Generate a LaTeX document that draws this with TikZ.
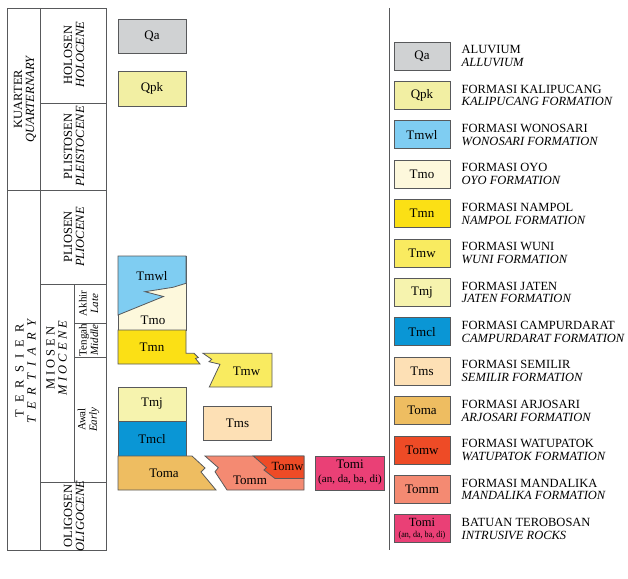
\documentclass[tikz,border=0pt]{standalone}
\usepackage{fontspec}
\setmainfont{Liberation Serif}
\newcommand\fsLeg{\fontsize{12.5}{12.9}\selectfont}
\newcommand\fsBox{\fontsize{13}{13}\selectfont}
\newcommand\fsTl{\fontsize{12.5}{12}\selectfont}
\newcommand\fsSub{\fontsize{11}{11.5}\selectfont}
\newcommand\fsSmall{\fontsize{9}{9}\selectfont}
\newcommand\fsMid{\fontsize{11}{11}\selectfont}
\newcommand\ls{\hspace{7pt}}
\definecolor{linec}{HTML}{58595B}
\definecolor{cQa}{HTML}{D0D2D3}
\definecolor{cQpk}{HTML}{F2EFA3}
\definecolor{cTmwl}{HTML}{7FCDF2}
\definecolor{cTmo}{HTML}{FDF8DC}
\definecolor{cTmn}{HTML}{FBE015}
\definecolor{cTmw}{HTML}{F9EB60}
\definecolor{cTmj}{HTML}{F6F3AE}
\definecolor{cTmcl}{HTML}{0A96D5}
\definecolor{cTms}{HTML}{FDE0B5}
\definecolor{cToma}{HTML}{EEBD61}
\definecolor{cTomw}{HTML}{EE4B26}
\definecolor{cTomm}{HTML}{F48A72}
\definecolor{cTomi}{HTML}{EA4076}
\begin{document}
\begin{tikzpicture}[x=1pt,y=-1pt,
  frm/.style={draw=linec, line width=0.8pt},
  bx/.style={draw=linec, line width=0.8pt},
  lab/.style={font=\fsBox, inner sep=0pt},
  legbox/.style={draw=linec, line width=0.8pt, minimum width=56pt, minimum height=28pt, inner sep=0pt, font=\fsBox, align=center},
  legtxt/.style={font=\fsLeg, align=left, anchor=west, inner sep=0pt},
  tl/.style={rotate=90, align=center, font=\fsTl, inner sep=0pt},
  tlsub/.style={rotate=90, align=center, font=\fsSub, inner sep=0pt}]
\useasboundingbox (0,0) rectangle (628,578);

% ---------- time table ----------
\draw[frm] (7,8) rectangle (106,550);
\draw[frm] (40,8) -- (40,550);
\draw[frm] (7,190) -- (106,190);
\draw[frm] (40,103) -- (106,103);
\draw[frm] (40,284) -- (106,284);
\draw[frm] (74,284) -- (74,482);
\draw[frm] (74,323) -- (106,323);
\draw[frm] (74,357) -- (106,357);
\draw[frm] (40,482) -- (106,482);

\node[tl] (kuarter) at (25,99) {KUARTER\\\textit{QUARTERNARY}};
\node[tl] (tersier) at (25.5,371) {T\ls E\ls R\ls S\ls I\ls E\ls R\\\textit{T\ls E\ls R\ls T\ls I\ls A\ls R\ls Y}};
\node[tl] (holosen) at (74,55) {HOLOSEN\\\textit{HOLOCENE}};
\node[tl] (plistosen) at (74,146.5) {PLISTOSEN\\\textit{PLEISTOCENE}};
\node[tl] (pliosen) at (74,237) {PLIOSEN\\\textit{PLIOCENE}};
\node[tl] (miosen) at (56.5,358) {M I O S E N\\\textit{M I O C E N E}};
\node[tlsub] (akhir) at (88.5,303.5) {Akhir\\\textit{Late}};
\node[tlsub] (tengah) at (88.5,340) {Tengah\\\textit{Middle}};
\node[tlsub] (awal) at (88.5,419.5) {Awal\\\textit{Early}};
\node[tl] (oligosen) at (74,516) {OLIGOSEN\\\textit{OLIGOCENE}};

% divider
\draw[frm] (389,8) -- (389,550);

% ---------- stratigraphic units ----------
\draw[bx, fill=cQa] (118,19) rectangle (186.5,53);
\node[lab] (qa) at (152,36) {Qa};
\draw[bx, fill=cQpk] (118,71) rectangle (186.5,106);
\node[lab] (qpk) at (152,88.5) {Qpk};

\draw[bx, fill=cTmo] (118,256) rectangle (186,330);
\draw[bx, fill=cTmwl] (118,256) -- (186,256) -- (186,283.3) -- (173,287.3) -- (145,291.7) -- (163.5,296.5) -- (118,315) -- cycle;
\node[lab] (tmwl) at (152,276) {Tmwl};
\node[lab] (tmo) at (153,320.5) {Tmo};

\draw[bx, fill=cTmn] (118,330) -- (186,330) -- (186,353.3) -- (194,353.3) -- (198.3,357.5) -- (195.5,358.5) -- (200,364) -- (118,364) -- cycle;
\node[lab] (tmn) at (152,347) {Tmn};

\draw[bx, fill=cTmw] (203,353.3) -- (272,353.3) -- (272,387) -- (209.3,387) -- (220,364.3) -- (209,361.7) -- (211.7,359.3) -- cycle;
\node[lab] (tmw) at (246.5,371) {Tmw};

\draw[bx, fill=cTmj] (118,387) rectangle (186,421.7);
\node[lab] (tmj) at (152,404) {Tmj};
\draw[bx, fill=cTmcl] (118,421.7) rectangle (186,456);
\node[lab] (tmcl) at (152,439) {Tmcl};

\draw[bx, fill=cTms] (203.3,406) rectangle (271.7,440.7);
\node[lab] (tms) at (237.5,423) {Tms};

\draw[bx, fill=cToma] (118,456) -- (192,456) -- (205,468) -- (201,472) -- (216,490) -- (118,490) -- cycle;
\node[lab] (toma) at (164,473) {Toma};

\draw[bx, fill=cTomm] (205,456) -- (304,456) -- (304,490) -- (227,490) -- (215,471.7) -- (218.3,467.7) -- cycle;
\draw[bx, fill=cTomw] (253.3,456) -- (304,456) -- (304,478.5) -- (275,478.5) -- (264,470) -- (266.5,467.5) -- cycle;
\node[lab] (tomm) at (250,480) {Tomm};
\node[lab, font=\fontsize{12.5}{12.5}\selectfont] (tomw) at (287.5,466.5) {Tomw};

\draw[bx, fill=cTomi] (315.7,456) rectangle (384.3,490);
\node[lab, align=center, font=\fontsize{13}{13.5}\selectfont] (tomi) at (350,472.5) {Tomi\\{\fontsize{11}{11}\selectfont (an, da, ba, di)}};

% ---------- legend ----------
\foreach \i/\c/\ab/\la/\lb in {
  0/cQa/Qa/ALUVIUM/ALLUVIUM,
  1/cQpk/Qpk/FORMASI KALIPUCANG/KALIPUCANG FORMATION,
  2/cTmwl/Tmwl/FORMASI WONOSARI/WONOSARI FORMATION,
  3/cTmo/Tmo/FORMASI OYO/OYO FORMATION,
  4/cTmn/Tmn/FORMASI NAMPOL/NAMPOL FORMATION,
  5/cTmw/Tmw/FORMASI WUNI/WUNI FORMATION,
  6/cTmj/Tmj/FORMASI JATEN/JATEN FORMATION,
  7/cTmcl/Tmcl/FORMASI CAMPURDARAT/CAMPURDARAT FORMATION,
  8/cTms/Tms/FORMASI SEMILIR/SEMILIR FORMATION,
  9/cToma/Toma/FORMASI ARJOSARI/ARJOSARI FORMATION,
  10/cTomw/Tomw/FORMASI WATUPATOK/WATUPATOK FORMATION,
  11/cTomm/Tomm/FORMASI MANDALIKA/MANDALIKA FORMATION}{
  \pgfmathsetmacro\yc{56+39.4*\i}
  \node[legbox, fill=\c] (lb\i) at (422,\yc) {\ab};
  \node[legtxt] (lt\i) at (461.5,\yc) {\la\\\textit{\lb}};
}
\node[legbox, fill=cTomi, font=\fontsize{12.5}{11}\selectfont] (lb12) at (422,528.8) {Tomi\\{\fsSmall\scalebox{0.9}[1]{(an, da, ba, di)}}};
\node[legtxt] (lt12) at (461.5,528.8) {BATUAN TEROBOSAN\\\textit{INTRUSIVE ROCKS}};
\end{tikzpicture}
\end{document}
